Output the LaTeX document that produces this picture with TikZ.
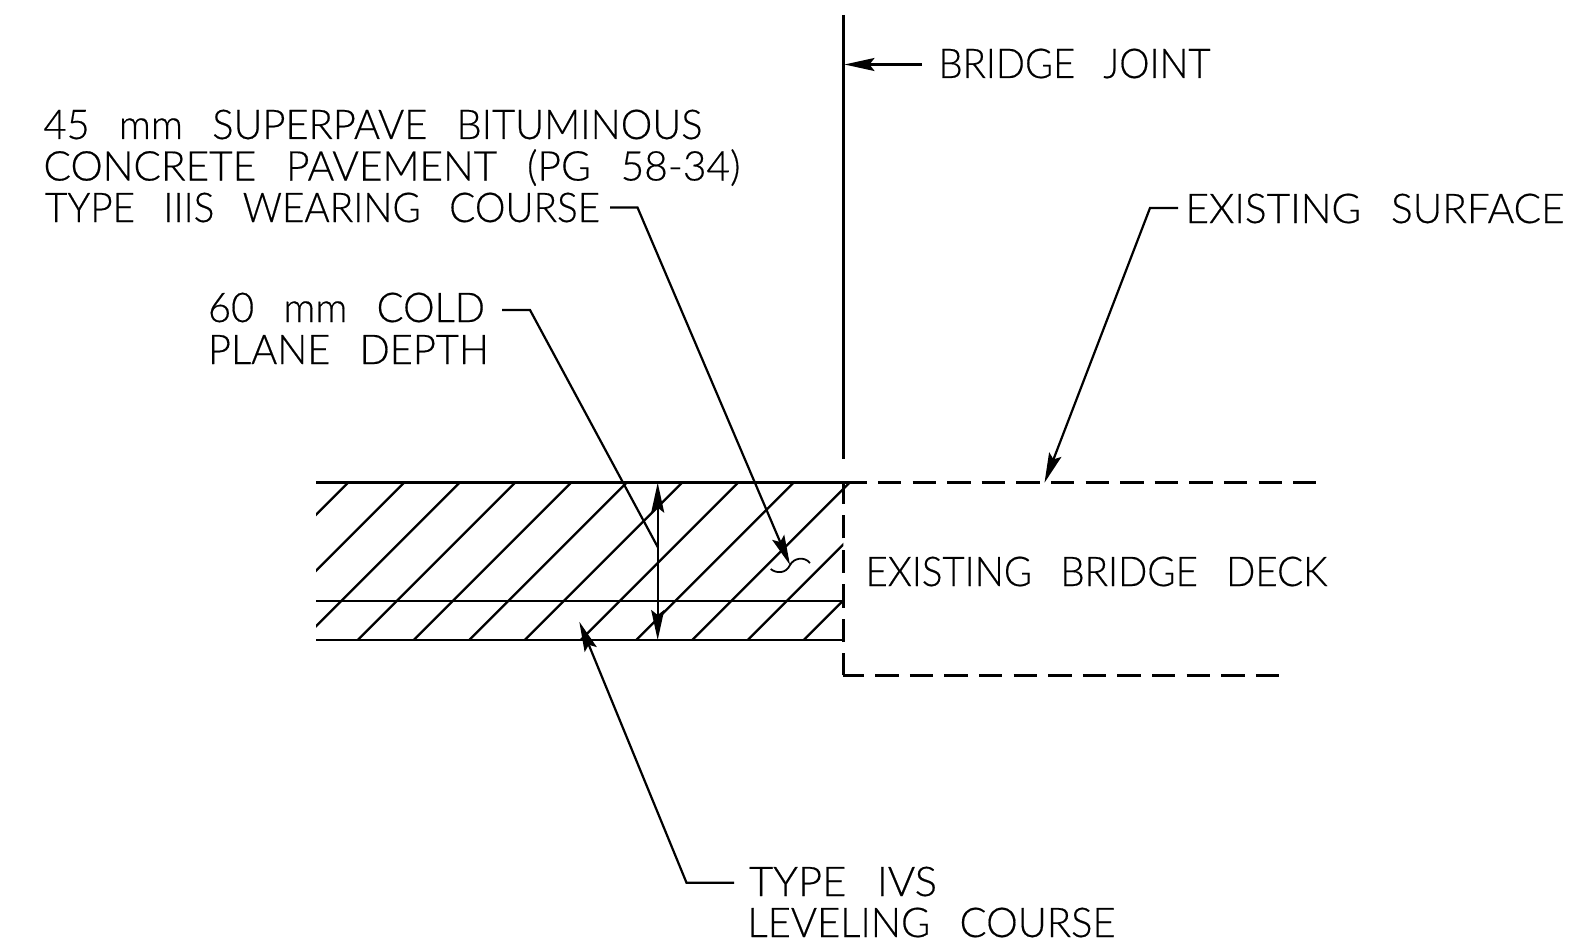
\documentclass[tikz,border=0pt]{standalone}
\usepackage{graphicx}
\usepackage{fontspec}
\setmainfont[WordSpace=2.7,FakeBold=0.4]{Lato Light}
\usetikzlibrary{arrows.meta}
\newcommand\fitw[2]{\setbox0=\hbox{#2}\scalebox{\fpeval{#1pt/\the\wd0}}[1]{\copy0}}
\tikzset{
  lbl/.style={inner sep=0pt,outer sep=0pt,anchor=base west,font=\fontsize{41}{41}\selectfont,text=black},
  main/.style={line width=2.4pt,black},
  hatchline/.style={line width=2.2pt,black},
  leader/.style={line width=2.2pt,black,line join=miter},
  dashedline/.style={line width=2.6pt,black,dash pattern=on 23.4pt off 11.2pt},
  headtip/.tip={Stealth[length=30pt,width=13pt,inset=5pt]},
  tip/.style={-headtip}
}
\begin{document}
\begin{tikzpicture}[x=1pt,y=-1pt]
\useasboundingbox (0,0) rectangle (1569,947);
% text
\node[lbl] (joint) at (938.5,78) {\fitw{272}{BRIDGE JOINT}};
\node[lbl] (sp1) at (43.5,139) {\fitw{659}{45 mm SUPERPAVE BITUMINOUS}};
\node[lbl] (sp2) at (43.5,180.5) {\fitw{697}{CONCRETE PAVEMENT (PG 58-34)}};
\node[lbl] (sp3) at (45,222) {\fitw{555}{TYPE IIIS WEARING COURSE}};
\node[lbl] (cold1) at (208,322) {\fitw{277}{60 mm COLD}};
\node[lbl] (cold2) at (208,364) {\fitw{281}{PLANE DEPTH}};
\node[lbl] (surf) at (1185.5,223) {\fitw{379}{EXISTING SURFACE}};
\node[lbl] (deck) at (865.5,586) {\fitw{462}{EXISTING BRIDGE DECK}};
\node[lbl] (ivs1) at (749,896) {\fitw{188}{TYPE IVS}};
\node[lbl] (ivs2) at (747.5,937) {\fitw{368}{LEVELING COURSE}};
% key points
\coordinate (tl) at (316,482.5);
\coordinate (tr) at (843.3,482.5);
\coordinate (tend) at (1316,482.5);
\coordinate (ml) at (316,601);
\coordinate (mr) at (843.3,601);
\coordinate (bl) at (316,640);
\coordinate (br) at (843.3,640);
\coordinate (lowc) at (843.3,675.3);
\coordinate (lowend) at (1279,675.3);
\coordinate (jt) at (843.3,15);
\coordinate (jb) at (843.3,459);
% hatching
\begin{scope}
\clip (316,481) rectangle (843.3,640);
\foreach \t in {348,404,459.5,515,571,626.5,682,738,793.5,905,961}
  \draw[hatchline] (\t,482.7) -- (\t-157.3,640);
\end{scope}
\draw[hatchline] (849.5,482.7) -- (692.2,640);
% layers
\draw[main] (tl) -- (tr);
\draw[main] (ml) -- (mr);
\draw[main] (bl) -- (br);
\draw[main] (jt) -- (jb);
\draw[dashedline] (tr) -- (tend);
\draw[dashedline,dash phase=2.7pt] (lowc) -- (lowend);
\draw[dashedline,dash phase=1.4pt] (lowc) -- (tr);
% leaders
\coordinate (jtip) at (844.5,64.5);
\coordinate (jtail) at (922,64.5);
\draw[leader,tip] (jtail) -- (jtip);
\coordinate (wa) at (610,207.5);
\coordinate (wb) at (637.5,207.5);
\coordinate (wtip) at (790,565);
\draw[leader,tip] (wa) -- (wb) -- (wtip);
\draw[line width=1.8pt] (770.7,569) .. controls (776,573.5) and (786,574) .. (790,565)
   .. controls (794,558) and (804,556) .. (810,563);
\coordinate (ca) at (502,310);
\coordinate (cb) at (530,310);
\coordinate (cend) at (657.7,547);
\draw[leader] (ca) -- (cb) -- (cend);
\coordinate (dt) at (657.7,482.7);
\coordinate (db) at (657.7,640);
\draw[leader,headtip-headtip] (dt) -- (db);
\coordinate (sa) at (1178,208);
\coordinate (sb) at (1150,208);
\coordinate (stip) at (1044.5,482.7);
\draw[leader,tip] (sa) -- (sb) -- (stip);
\coordinate (la) at (734,882.7);
\coordinate (lb) at (686.5,882.7);
\coordinate (ltip) at (579.3,621.7);
\draw[leader,tip] (la) -- (lb) -- (ltip);
\end{tikzpicture}
\end{document}
